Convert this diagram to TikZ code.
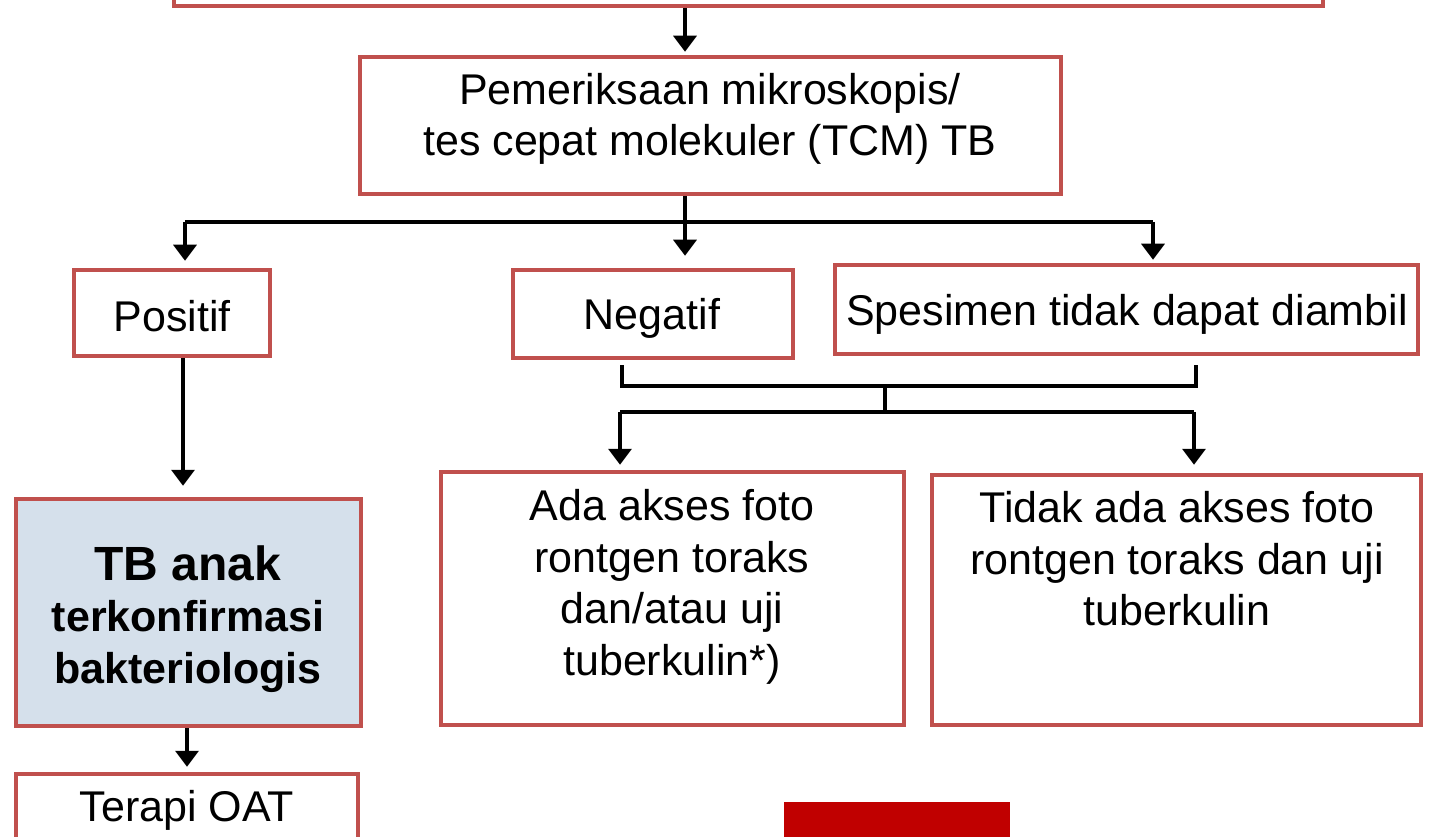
\documentclass[tikz,border=0pt]{standalone}
\usepackage{fontspec}
\setmainfont{Liberation Sans}
\usetikzlibrary{arrows.meta}

\definecolor{boxred}{HTML}{C0504D}
\definecolor{boxblue}{HTML}{D5E0EB}
\definecolor{darkred}{HTML}{C00000}

\begin{document}
\begin{tikzpicture}[x=1pt,y=-1pt,
  box/.style={draw=boxred,line width=4.5pt,rectangle,inner sep=0pt,fill=white},
  txt/.style={align=center,inner sep=0pt,font=\fontsize{43}{51.5}\selectfont},
  conn/.style={line width=3.5pt,black},
  arr/.style={conn,-{Triangle[width=23pt,length=16pt]}}
]
\useasboundingbox (0,0) rectangle (1430,837);
\clip (0,0) rectangle (1430,837);

% boxes
\node[box,minimum width=1149pt,minimum height=66pt] (top) at (748.5,-27) {};
\node[box,minimum width=701pt,minimum height=137pt] (exam) at (710.5,125.5) {};
\node[box,minimum width=196pt,minimum height=86pt] (pos) at (172,313) {};
\node[box,minimum width=280pt,minimum height=88pt] (neg) at (653,314) {};
\node[box,minimum width=583pt,minimum height=89pt] (spec) at (1126.5,309.5) {};
\node[box,minimum width=463pt,minimum height=253pt] (ada) at (672.5,598.5) {};
\node[box,minimum width=489pt,minimum height=250pt] (tidak) at (1176.5,600) {};
\node[box,fill=boxblue,minimum width=345pt,minimum height=227pt] (tb) at (188.5,612.5) {};
\node[box,minimum width=342pt,minimum height=126pt] (oat) at (187,837) {};
\node[rectangle,fill=darkred,inner sep=0pt,minimum width=226pt,minimum height=78pt] (bar) at (897,841) {};

% labels
\node[txt] (examT) at (710,119) {Pemeriksaan mikroskopis/\\tes cepat molekuler (TCM) TB};
\node[txt] (posT) at (172,316) {Positif};
\node[txt] (negT) at (652,318) {Negatif};
\node[txt] (specT) at (1127,314) {Spesimen tidak dapat diambil};
\node[txt] (adaT) at (672,587) {Ada akses foto\\rontgen toraks\\dan/atau uji\\tuberkulin*)};
\node[txt] (tidakT) at (1177,559) {Tidak ada akses foto\\rontgen toraks dan uji\\tuberkulin};
\node[txt,font=\bfseries\fontsize{43}{51.5}\selectfont] (tbT) at (188,619)
  {{\fontsize{48}{51.5}\selectfont TB anak}\\terkonfirmasi\\bakteriologis};
\node[txt] (oatT) at (187,810) {Terapi OAT};

% connector columns and junctions
\coordinate (cTop) at (685,0);
\coordinate (busN) at (685,222);
\coordinate (busP) at (185,222);
\coordinate (busS) at (1153,222);
\coordinate (tickL) at (622,365);
\coordinate (tickR) at (1196,365);
\coordinate (brU) at (885,386);
\coordinate (brL) at (885,412);
\coordinate (dropL) at (620,412);
\coordinate (dropR) at (1194,412);
\coordinate (cPos) at (183,0);
\coordinate (cTb) at (187,0);

% top -> exam
\draw[arr,shorten >=3pt] (top.south -| cTop) -- (exam.north -| cTop);

% exam -> result boxes
\draw[conn] (exam.south -| busN) -- (busN);
\draw[conn] (busP) -- (busS);
\draw[arr,shorten >=7pt] (busP) -- (pos.north -| busP);
\draw[arr,shorten >=12pt] (busN) -- (neg.north -| busN);
\draw[arr,shorten >=3pt] (busS) -- (spec.north -| busS);

% negative / no specimen -> access boxes
\draw[conn] (tickL) -- (tickL |- brU) -- (tickR |- brU) -- (tickR);
\draw[conn] (brU) -- (brL);
\draw[conn] (dropL) -- (dropR);
\draw[arr,shorten >=5pt] (dropL) -- (ada.north -| dropL);
\draw[arr,shorten >=8pt] (dropR) -- (tidak.north -| dropR);

% positive -> confirmed -> therapy
\draw[arr,shorten >=11pt] (pos.south -| cPos) -- (tb.north -| cPos);
\draw[arr,shorten >=5pt] (tb.south -| cTb) -- (oat.north -| cTb);
\end{tikzpicture}
\end{document}
